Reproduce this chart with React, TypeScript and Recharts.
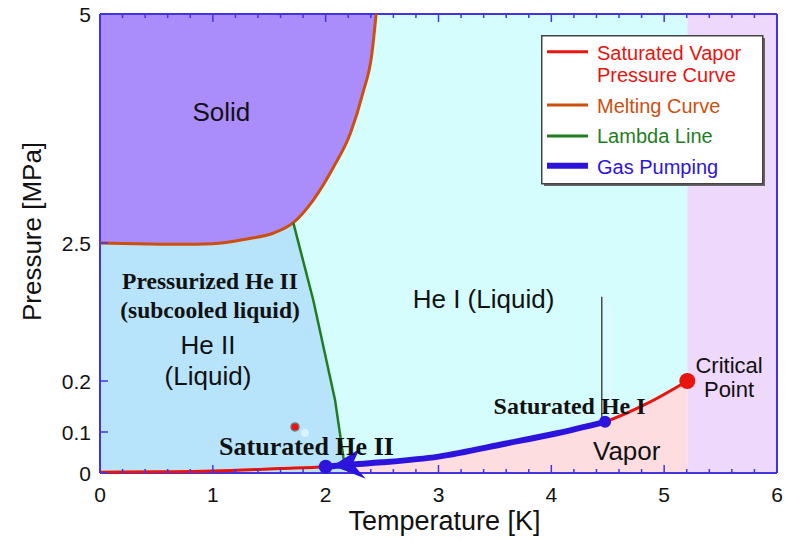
import React from 'react';
import { ComposedChart, Area, Line, Scatter, XAxis, YAxis } from 'recharts';

// ---------------- axes ----------------
const temperatureTicks = [0, 1, 2, 3, 4, 5, 6];
const temperatureMinorTicks = [0, 0.2, 0.4, 0.6, 0.8, 1, 1.2, 1.4, 1.6, 1.8, 2, 2.2, 2.4, 2.6, 2.8, 3, 3.2, 3.4, 3.6, 3.8, 4, 4.2, 4.4, 4.6, 4.8, 5, 5.2, 5.4, 5.6, 5.8, 6];
const pressureTicks = [0, 0.1, 0.2, 2.5, 5];
const pressureTickLabels = ['0', '0.1', '0.2', '2.5', '5'];
// broken (non-uniform) pressure axis of the original: axis units reached at each tick
const pressureAxisStops = [0, 41, 92, 230, 459];

// ---------------- data [T (K), P (MPa)] ----------------
const svpCurve: [number, number][] = [
  [0, 0.002], [0.5, 0.003], [1.0, 0.005], [1.6, 0.011], [2.0, 0.0155], [2.2, 0.02],
  [2.5, 0.026], [3.0, 0.04], [3.6, 0.072], [4.05, 0.097], [4.476, 0.12], [4.85, 0.156], [5.205, 0.2],
];
const meltingCurve: [number, number][] = [
  [0, 2.5], [0.33, 2.489], [0.71, 2.478], [1.0, 2.488], [1.3, 2.544], [1.54, 2.609], [1.713, 2.722],
  [1.89, 2.969], [2.07, 3.33], [2.22, 3.7], [2.33, 4.14], [2.41, 4.57], [2.435, 4.85], [2.447, 5.0],
];
const lambdaLine: [number, number][] = [
  [1.713, 2.722], [1.89, 1.55], [2.083, 0.163], [2.157, 0.039], [2.17, 0.019],
];
const pumpingRange = [2.0, 4.476];
const criticalPoint: [number, number][] = [[5.205, 0.2]];
const saturatedHeI: [number, number][] = [[4.476, 0.12]];
const saturatedHeII: [number, number][] = [[2.0, 0.0155]];
const pressurizedMarker: [number, number][] = [[1.728, 0.11]];
const faintMarker: [number, number][] = [[1.817, 0.0976]];
const cursorLine: [number, number][] = [[4.447, 0.118], [4.447, 1.605]];
const cursorShadow: [number, number][] = [[4.52, 0.118], [4.52, 1.467]];
const pressureMax = 5;
const temperatureMax = 6;

const sansLabels = [
  { t: 1.075, p: 3.835, lines: ['Solid'] },
  { t: 0.957, p: 0.65, lines: ['He II', '(Liquid)'] },
  { t: 3.399, p: 1.417, lines: ['He I (Liquid)'] },
  { t: 4.668, p: 0.0317, lines: ['Vapor'] },
];
const criticalLabel = [{ t: 5.575, p: 0.338, lines: ['Critical', 'Point'] }];
const pressurizedLabel = [{ t: 0.975, p: 1.728, lines: ['Pressurized He II', '(subcooled liquid)'] }];
const saturatedHeILabel = [{ t: 4.162, p: 0.1347, lines: ['Saturated He I'] }];
const saturatedHeIILabel = [{ t: 1.83, p: 0.0439, lines: ['Saturated He II'] }];

const legendNames = [['Saturated Vapor', 'Pressure Curve'], ['Melting Curve'], ['Lambda Line'], ['Gas Pumping']];

// ---------------- styles ----------------
const FRAME = '#4333e4';
const RED = '#e8140e';
const ORANGE = '#cc4f0e';
const GREEN = '#1f7d1f';
const BLUE = '#2d14dc';
const C_SOLID = '#aa8cfb';
const C_HEII = '#b7e4fb';
const C_HEI = '#d6fdfd';
const C_VAPOR = '#fddde0';
const C_SUPER = '#eed8fb';
const SANS = '"Liberation Sans", Arial, Helvetica, sans-serif';
const SERIF = '"Liberation Serif", "Times New Roman", serif';

function toAxis(p: number): number {
  const n = pressureTicks.length;
  if (p <= pressureTicks[0]) return pressureAxisStops[0];
  for (let i = 0; i < n - 1; i++) {
    const a = pressureTicks[i];
    const b = pressureTicks[i + 1];
    if (p <= b) {
      return pressureAxisStops[i] + ((p - a) / (b - a)) * (pressureAxisStops[i + 1] - pressureAxisStops[i]);
    }
  }
  return pressureAxisStops[n - 1];
}
const pts = (arr: [number, number][]) => arr.map(([t, p]) => ({ x: t, y: toAxis(p) }));
const lbl = (arr: { t: number; p: number; lines: string[] }[]) =>
  arr.map((d) => ({ x: d.t, y: toAxis(d.p), lines: d.lines }));
const isMajorT = (v: number) => temperatureTicks.some((m) => Math.abs(m - v) < 1e-6);

const criticalT = criticalPoint[0][0];
const yTop = toAxis(pressureMax);
const heIRegion = pts([[0, pressureMax], [criticalT, pressureMax]]);
const superRegion = pts([[criticalT, pressureMax], [temperatureMax, pressureMax]]);
const heIIBoundary = pts(
  (meltingCurve.filter(([t]) => t <= lambdaLine[0][0]) as [number, number][]).concat(lambdaLine.slice(1))
);
const gasPumping = pts(svpCurve.filter(([t]) => t >= pumpingRange[0] && t <= pumpingRange[1]));

// frame + tick marks (drawn as series so they sit above the filled regions)
const frameBottom = pts([[0, 0], [temperatureMax, 0]]);
const frameTop = pts([[0, pressureMax], [temperatureMax, pressureMax]]);
const frameLeft = pts([[0, 0], [0, pressureMax]]);
const frameRight = pts([[temperatureMax, 0], [temperatureMax, pressureMax]]);
const bottomTickMarks = temperatureMinorTicks.map((t) => ({ x: t, y: 0, major: isMajorT(t) }));
const topTickMarks = temperatureMinorTicks.map((t) => ({ x: t, y: yTop, major: isMajorT(t) }));
const leftTickMarks = pressureTicks.map((p) => ({ x: 0, y: toAxis(p) }));

const XTick = (props: any) => {
  const { x, y, payload } = props;
  const v = payload.value;
  if (!isMajorT(v)) return <g />;
  return (
    <text x={x} y={y + 29} textAnchor="middle" fontFamily={SANS} fontSize={21} fill="#111">
      {String(Math.round(v))}
    </text>
  );
};

const YTick = (props: any) => {
  const { x, y, payload } = props;
  const idx = pressureAxisStops.findIndex((s) => Math.abs(s - payload.value) < 1e-6);
  return (
    <text x={x - 9} y={y + 8} textAnchor="end" fontFamily={SANS} fontSize={21} fill="#111">
      {idx >= 0 ? pressureTickLabels[idx] : ''}
    </text>
  );
};

const makeText = (family: string, size: number, lineGap: number, weight: string | number) => (props: any) => {
  const { cx, cy, payload } = props;
  const lines: string[] = (payload && payload.lines) || [];
  return (
    <text x={cx} y={cy} textAnchor="middle" fontFamily={family} fontSize={size} fontWeight={weight} fill="#111">
      {lines.map((l, i) => (
        <tspan key={i} x={cx} dy={i === 0 ? 0 : lineGap}>
          {l}
        </tspan>
      ))}
    </text>
  );
};

const ArrowHead = (props: any) => {
  const { cx, cy } = props;
  return (
    <g>
      <polygon
        points={`${cx + 7},${cy - 1} ${cx + 34},${cy - 18} ${cx + 27},${cy - 3} ${cx + 40},${cy + 12}`}
        fill={BLUE}
      />
      <circle cx={cx} cy={cy} r={7} fill={BLUE} />
    </g>
  );
};

const frameLineProps = {
  dataKey: 'y',
  type: 'linear' as const,
  stroke: FRAME,
  strokeWidth: 2,
  dot: false,
  activeDot: false,
  isAnimationActive: false,
};

const legendStyles = [
  { color: RED, w: 3 },
  { color: ORANGE, w: 3 },
  { color: GREEN, w: 3 },
  { color: BLUE, w: 6 },
];
const legendRows = [
  { line: 16.7, base: [25, 46.7] },
  { line: 70, base: [78.3] },
  { line: 101, base: [108.3] },
  { line: 130.7, base: [139] },
];

export default function App() {
  return (
    <div style={{ position: 'absolute', left: 0, top: 0, width: 786, height: 541, background: '#fff' }}>
      <ComposedChart width={786} height={541} margin={{ top: 14, right: 9, bottom: 0, left: 0 }}>
        <Area data={heIRegion} dataKey="y" type="linear" fill={C_HEI} fillOpacity={1} stroke="none" isAnimationActive={false} dot={false} activeDot={false} />
        <Area data={superRegion} dataKey="y" type="linear" fill={C_SUPER} fillOpacity={1} stroke="none" isAnimationActive={false} dot={false} activeDot={false} />
        <Area data={pts(svpCurve)} dataKey="y" type="monotone" fill={C_VAPOR} fillOpacity={1} stroke="none" isAnimationActive={false} dot={false} activeDot={false} />
        <Area data={heIIBoundary} dataKey="y" type="linear" fill={C_HEII} fillOpacity={1} stroke="none" isAnimationActive={false} dot={false} activeDot={false} />
        <Area data={pts(meltingCurve)} dataKey="y" type="monotone" baseValue={yTop} fill={C_SOLID} fillOpacity={1} stroke="none" isAnimationActive={false} dot={false} activeDot={false} />

        <Line data={frameTop} {...frameLineProps} />
        <Line data={frameBottom} {...frameLineProps} />
        <Line data={frameLeft} {...frameLineProps} />
        <Line data={frameRight} {...frameLineProps} />

        <Line data={pts(cursorShadow)} dataKey="y" type="linear" stroke="#eef4ff" strokeWidth={1.5} dot={false} activeDot={false} isAnimationActive={false} />
        <Line data={pts(cursorLine)} dataKey="y" type="linear" stroke="#4a4a4a" strokeWidth={1.5} dot={false} activeDot={false} isAnimationActive={false} />
        <Line data={pts(svpCurve)} dataKey="y" type="monotone" stroke={RED} strokeWidth={3} dot={false} activeDot={false} isAnimationActive={false} />
        <Line data={pts(meltingCurve)} dataKey="y" type="monotone" stroke={ORANGE} strokeWidth={3} dot={false} activeDot={false} isAnimationActive={false} />
        <Line data={pts(lambdaLine)} dataKey="y" type="linear" stroke={GREEN} strokeWidth={2.5} dot={false} activeDot={false} isAnimationActive={false} />
        <Line data={gasPumping} dataKey="y" type="monotone" stroke={BLUE} strokeWidth={6} dot={false} activeDot={false} isAnimationActive={false} />

        <Scatter data={bottomTickMarks} dataKey="y" isAnimationActive={false}
          shape={(p: any) => <line x1={p.cx} x2={p.cx} y1={p.cy} y2={p.cy - (p.payload && p.payload.major ? 8 : 4)} stroke={FRAME} strokeWidth={1.5} />} />
        <Scatter data={topTickMarks} dataKey="y" isAnimationActive={false}
          shape={(p: any) => <line x1={p.cx} x2={p.cx} y1={p.cy} y2={p.cy + (p.payload && p.payload.major ? 8 : 4)} stroke={FRAME} strokeWidth={1.5} />} />
        <Scatter data={leftTickMarks} dataKey="y" isAnimationActive={false}
          shape={(p: any) => <line x1={p.cx} x2={p.cx + 8} y1={p.cy} y2={p.cy} stroke={FRAME} strokeWidth={1.5} />} />

        <Scatter data={pts(faintMarker)} dataKey="y" isAnimationActive={false} shape={(p: any) => <circle cx={p.cx} cy={p.cy} r={4} fill="#ffffff" fillOpacity={0.5} />} />
        <Scatter data={pts(pressurizedMarker)} dataKey="y" isAnimationActive={false} shape={(p: any) => <circle cx={p.cx} cy={p.cy} r={4} fill="#f01010" stroke="#777" strokeWidth={1.5} />} />
        <Scatter data={pts(saturatedHeI)} dataKey="y" isAnimationActive={false} shape={(p: any) => <circle cx={p.cx} cy={p.cy} r={6} fill={BLUE} />} />
        <Scatter data={pts(saturatedHeII)} dataKey="y" isAnimationActive={false} shape={ArrowHead} />
        <Scatter data={pts(criticalPoint)} dataKey="y" isAnimationActive={false} shape={(p: any) => <circle cx={p.cx} cy={p.cy} r={8} fill={RED} />} />

        <Scatter data={lbl(sansLabels)} dataKey="y" isAnimationActive={false} shape={makeText(SANS, 26, 31, 'normal')} />
        <Scatter data={lbl(criticalLabel)} dataKey="y" isAnimationActive={false} shape={makeText(SANS, 22, 24, 'normal')} />
        <Scatter data={lbl(pressurizedLabel)} dataKey="y" isAnimationActive={false} shape={makeText(SERIF, 23.5, 29, 'bold')} />
        <Scatter data={lbl(saturatedHeILabel)} dataKey="y" isAnimationActive={false} shape={makeText(SERIF, 24, 0, 'bold')} />
        <Scatter data={lbl(saturatedHeIILabel)} dataKey="y" isAnimationActive={false} shape={makeText(SERIF, 26, 0, 'bold')} />

        <XAxis
          dataKey="x"
          type="number"
          domain={[0, temperatureMax]}
          ticks={temperatureMinorTicks}
          interval={0}
          height={68}
          tickSize={0}
          tickMargin={0}
          tickLine={false}
          axisLine={false}
          tick={<XTick />}
          label={{
            content: (p: any) => {
              const vb = p.viewBox || { x: 100, y: 473, width: 677 };
              return (
                <text x={vb.x + vb.width / 2 + 6} y={vb.y + 57} textAnchor="middle" fontFamily={SANS} fontSize={27} fill="#111">
                  Temperature [K]
                </text>
              );
            },
          }}
        />
        <YAxis
          dataKey="y"
          type="number"
          domain={[0, yTop]}
          ticks={pressureAxisStops}
          interval={0}
          width={100}
          tickSize={0}
          tickMargin={0}
          tickLine={false}
          axisLine={false}
          tick={<YTick />}
          label={{
            content: (p: any) => {
              const vb = p.viewBox || { x: 0, y: 14, height: 459 };
              const cx = vb.x + 32;
              const cy = vb.y + vb.height / 2 - 12;
              return (
                <text x={cx} y={cy} transform={`rotate(-90 ${cx} ${cy})`} textAnchor="middle" dominantBaseline="central" fontFamily={SANS} fontSize={26} fill="#111">
                  Pressure [MPa]
                </text>
              );
            },
          }}
        />
      </ComposedChart>

      <svg style={{ position: 'absolute', left: 541, top: 35 }} width={228} height={154}>
        <rect x={3} y={3} width={221} height={148} fill="#666" />
        <rect x={0.75} y={0.75} width={221} height={148} fill="#ffffff" stroke="#444" strokeWidth={1.5} />
        {legendNames.map((names, i) => (
          <g key={i}>
            <line x1={6} x2={47} y1={legendRows[i].line} y2={legendRows[i].line} stroke={legendStyles[i].color} strokeWidth={legendStyles[i].w} />
            {names.map((n, j) => (
              <text key={j} x={56} y={legendRows[i].base[j]} fontFamily={SANS} fontSize={20} fill={legendStyles[i].color}>
                {n}
              </text>
            ))}
          </g>
        ))}
      </svg>
    </div>
  );
}
